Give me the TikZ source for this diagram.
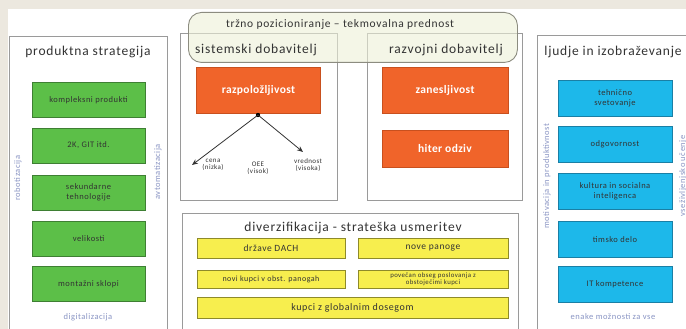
\documentclass[tikz,border=0pt]{standalone}
\usepackage{fontspec}
\setmainfont{Carlito}
\usetikzlibrary{arrows.meta}
\definecolor{bg}{HTML}{ECE8DF}
\definecolor{panelline}{HTML}{9A9A9A}
\definecolor{gfill}{HTML}{5CBF48}
\definecolor{gline}{HTML}{3E7F33}
\definecolor{ofill}{HTML}{F0642A}
\definecolor{oline}{HTML}{C8501E}
\definecolor{yfill}{HTML}{F7EE4E}
\definecolor{yline}{HTML}{8E8A2A}
\definecolor{bfill}{HTML}{1DB8EA}
\definecolor{bline}{HTML}{1A7FA5}
\definecolor{bannerfill}{HTML}{EDF0D8}
\definecolor{bannerline}{HTML}{8C8C80}
\definecolor{sidetext}{HTML}{8A95C4}
\definecolor{txt}{HTML}{333333}
\newcommand{\wide}{\addfontfeature{LetterSpace=6}}
\tikzset{
  panel/.style={draw=panelline, line width=0.9pt, fill=white, anchor=north west, inner sep=0pt},
  ptitle/.style={font=\fontsize{13.5}{14}\selectfont\wide, text=txt, inner sep=0pt},
  gbox/.style={draw=gline, fill=gfill, line width=0.8pt, minimum width=113pt, minimum height=35pt, align=center, font=\fontsize{8.5}{9.5}\selectfont\wide, text=txt, inner sep=1pt},
  bbox/.style={draw=bline, fill=bfill, line width=0.8pt, minimum width=114pt, minimum height=36pt, align=center, font=\fontsize{8.5}{9.5}\selectfont\wide, text=txt, inner sep=1pt},
  obox/.style={draw=oline, fill=ofill, line width=0.8pt, minimum width=124pt, align=center, font=\fontsize{11.5}{12}\selectfont\bfseries\addfontfeature{LetterSpace=3}, text=white, inner sep=1pt},
  ybox/.style={draw=yline, fill=yfill, line width=0.8pt, align=center, font=\fontsize{9.5}{10}\selectfont\wide, text=txt, inner sep=1pt},
  side/.style={font=\fontsize{8.5}{9}\selectfont\wide, text=sidetext, inner sep=0pt},
  small/.style={font=\fontsize{7}{7.5}\selectfont\wide, text=txt, align=center, inner sep=0pt},
  arr/.style={draw=black!80, line width=0.8pt, -{Stealth[length=6pt,width=5pt]}}
}
\begin{document}
\begin{tikzpicture}[x=1pt,y=-1pt]
\useasboundingbox (0,0) rectangle (686,329);
\clip (0,0) rectangle (686,329);
\fill[bg] (0,0) rectangle (686,329);
\fill[white] (8,9) rectangle (686,329);

% panels
\node[panel, minimum width=158pt, minimum height=300pt] (pL) at (9,36) {};
\node[panel, minimum width=157pt, minimum height=167pt] (pS) at (180,33) {};
\node[panel, minimum width=155pt, minimum height=167pt] (pR) at (367,33) {};
\node[panel, minimum width=336pt, minimum height=130pt] (pD) at (182,213) {};
\node[panel, minimum width=160pt, minimum height=300pt] (pP) at (537,35) {};

% banner
\node[draw=bannerline, fill=bannerfill, fill opacity=0.6, line width=0.9pt, rounded corners=13pt, minimum width=329pt, minimum height=50pt, anchor=north west] (ban) at (188,12) {};
\node[font=\fontsize{11.5}{12}\selectfont\wide, text=txt, inner sep=0pt] (bant) at (340,24) {tržno pozicioniranje – tekmovalna prednost};

% left panel
\node[ptitle] (tL) at (88,52) {produktna strategija};
\node[gbox] (g1) at (88.5,100) {kompleksni produkti};
\node[gbox] (g2) at (88.5,145.5) {2K, GIT itd.};
\node[gbox] (g3) at (88.5,192.5) {sekundarne\\tehnologije};
\node[gbox] (g4) at (88.5,239) {velikosti};
\node[gbox] (g5) at (88.5,284) {montažni sklopi};
\node[side, rotate=90] (sL1) at (18,178) {robotizacija};
\node[side, rotate=90] (sL2) at (158,172) {avtomatizacija};
\node[side] (sL3) at (88,317) {digitalizacija};

% sistemski dobavitelj
\node[ptitle] (tS) at (256,50) {sistemski dobavitelj};
\node[obox, minimum height=46pt] (o1) at (258.5,90) {razpoložljivost};
\coordinate (dot) at (258,115);
\fill[black] (dot) circle (2.2pt);
\coordinate (a1) at (192,165);
\coordinate (a2) at (303,152);
\draw[arr] (dot) -- (a1);
\draw[arr] (dot) -- (a2);
\node[small] (c1) at (213,165) {cena\\(nizka)};
\node[small] (c2) at (258,168) {OEE\\(visok)};
\node[small] (c3) at (308,165) {vrednost\\(visoka)};

% razvojni dobavitelj
\node[ptitle] (tR) at (446,50) {razvojni dobavitelj};
\node[obox, minimum height=46pt, minimum width=126pt] (o2) at (445,90) {zanesljivost};
\node[obox, minimum height=37pt, minimum width=126pt] (o3) at (445,148.5) {hiter odziv};

% diverzifikacija
\node[ptitle] (tD) at (353,228) {diverzifikacija - strateška usmeritev};
\node[ybox, minimum width=148pt, minimum height=20pt] (y1) at (271,248) {države DACH};
\node[ybox, minimum width=150pt, minimum height=20pt] (y2) at (433,248) {nove panoge};
\node[ybox, minimum width=148pt, minimum height=18pt, font=\fontsize{8}{8.5}\selectfont\wide] (y3) at (271,279) {novi kupci v obst. panogah};
\node[ybox, minimum width=150pt, minimum height=18pt, font=\fontsize{6.8}{6.5}\selectfont\wide] (y4) at (433,279) {povečan obseg poslovanja z\\obstoječimi kupci};
\node[ybox, minimum width=311pt, minimum height=21pt, font=\fontsize{10}{11}\selectfont\wide] (y5) at (352.5,307.5) {kupci z globalnim dosegom};

% ljudje
\node[ptitle] (tP) at (613,52) {ljudje in izobraževanje};
\node[bbox] (b1) at (615,98.5) {tehnično\\svetovanje};
\node[bbox] (b2) at (615,144.5) {odgovornost};
\node[bbox] (b3) at (615,191.5) {kultura in socialna\\inteligenca};
\node[bbox] (b4) at (615,239.5) {timsko delo};
\node[bbox] (b5) at (615,284.5) {IT kompetence};
\node[side, rotate=90] (sP1) at (547,176) {motivacija in produktivnost};
\node[side, rotate=90] (sP2) at (683,176) {vseživljenjsko učenje};
\node[side] (sP3) at (613,317) {enake možnosti za vse};
\end{tikzpicture}
\end{document}
